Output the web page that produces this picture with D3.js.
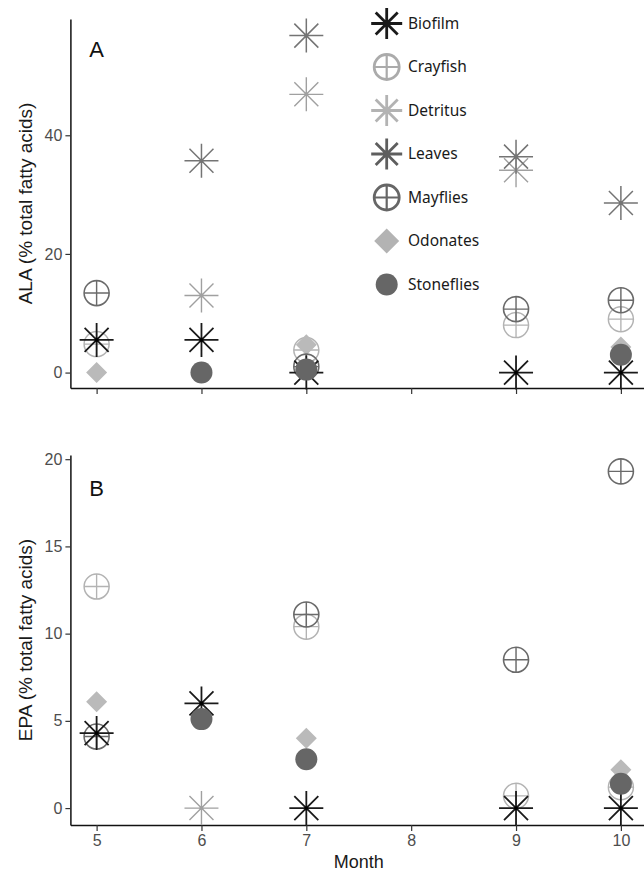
<!DOCTYPE html>
<html>
<head>
<meta charset="utf-8">
<script src="https://cdn.jsdelivr.net/npm/d3@7/dist/d3.min.js"></script>
<style>
html,body{margin:0;padding:0;background:#fff;}
svg{display:block;}
</style>
</head>
<body>
<svg id="chart" width="644" height="871"></svg>
<script>
// ---- data ----
const months = [5, 6, 7, 8, 9, 10];
const groups = ["Biofilm", "Crayfish", "Detritus", "Leaves", "Mayflies", "Odonates", "Stoneflies"];
// ALA values (% total fatty acids), null = not sampled
const alaBiofilm    = [5.5, 5.5, 0.0, null, 0.0, 0.0];
const alaCrayfish   = [4.8, null, 3.8, null, 8.0, 9.0];
const alaDetritus   = [null, 13.0, 46.9, null, 34.1, null];
const alaLeaves     = [null, 35.7, 56.8, null, 36.4, 28.6];
const alaMayflies   = [13.4, null, 1.0, null, 10.7, 12.2];
const alaOdonates   = [0.0, null, 4.7, null, null, 4.3];
const alaStoneflies = [null, 0.0, 0.5, null, null, 3.0];
// EPA values
const epaBiofilm    = [4.3, 6.0, 0.0, null, 0.0, 0.0];
const epaCrayfish   = [12.7, null, 10.4, null, 0.7, 1.2];
const epaDetritus   = [null, 0.0, null, null, null, null];
const epaLeaves     = [null, null, null, null, null, null];
const epaMayflies   = [4.1, null, 11.1, null, 8.5, 19.3];
const epaOdonates   = [6.1, null, 4.0, null, null, 2.2];
const epaStoneflies = [null, 5.1, 2.8, null, null, 1.4];
const alaTicks = [0, 20, 40];
const epaTicks = [0, 5, 10, 15, 20];
const monthTicks = [5, 6, 7, 8, 9, 10];

// ---- styles ----
const style = {
  Biofilm:    {shape: "ast",  color: "#1a1a1a", sw: 1.8},
  Crayfish:   {shape: "cplus", color: "#b3b3b3", sw: 1.5},
  Detritus:   {shape: "ast",  color: "#a0a0a0", sw: 1.4},
  Leaves:     {shape: "ast",  color: "#747474", sw: 1.5},
  Mayflies:   {shape: "cplus", color: "#6a6a6a", sw: 1.6},
  Odonates:   {shape: "diamond", color: "#bababa"},
  Stoneflies: {shape: "dot",  color: "#666666"}
};
const legendStyle = {
  Biofilm: "#1a1a1a", Crayfish: "#ababab", Detritus: "#b3b3b3", Leaves: "#5e5e5e",
  Mayflies: "#666666", Odonates: "#b3b3b3", Stoneflies: "#666666"
};
const drawOrder = ["Crayfish", "Odonates", "Mayflies", "Biofilm", "Stoneflies", "Detritus", "Leaves"];

const alaData = {Biofilm: alaBiofilm, Crayfish: alaCrayfish, Detritus: alaDetritus, Leaves: alaLeaves,
  Mayflies: alaMayflies, Odonates: alaOdonates, Stoneflies: alaStoneflies};
const epaData = {Biofilm: epaBiofilm, Crayfish: epaCrayfish, Detritus: epaDetritus, Leaves: epaLeaves,
  Mayflies: epaMayflies, Odonates: epaOdonates, Stoneflies: epaStoneflies};

const svg = d3.select("#chart");
const axisFont = "'Liberation Sans', Arial, sans-serif";

const x = d3.scaleLinear().domain([4.75, 10.25]).range([70.4, 647.1]);
const yA = d3.scaleLinear().domain([-2.6, 59.6]).range([388, 19]);
const yB = d3.scaleLinear().domain([-0.97, 20.24]).range([825, 455]);

function astPath(r, d) {
  return `M${-r},0L${r},0M0,${-r}L0,${r}M${-d},${-d}L${d},${d}M${-d},${d}L${d},${-d}`;
}
function cplusPath(r) {
  return `M${-r},0L${r},0M0,${-r}L0,${r}`;
}

function drawMarker(g, name, cx, cy, legend) {
  const s = style[name];
  const col = legend ? legendStyle[name] : s.color;
  const m = g.append("g").attr("transform", `translate(${cx},${cy})`);
  if (s.shape === "ast") {
    const r = legend ? 15.5 : 17, d = legend ? 11 : 12;
    m.append("path").attr("d", astPath(r, d)).attr("fill", "none")
      .attr("stroke", col).attr("stroke-width", legend ? 2.8 : s.sw);
    if (!legend) m.append("circle").attr("r", 1.9).attr("fill", name === "Biofilm" ? "#000" : col);
  } else if (s.shape === "cplus") {
    const r = 12.5;
    m.append("circle").attr("r", r).attr("fill", "none").attr("stroke", col)
      .attr("stroke-width", legend ? 2.8 : s.sw);
    m.append("path").attr("d", cplusPath(r)).attr("fill", "none").attr("stroke", col)
      .attr("stroke-width", legend ? 2.2 : s.sw * 0.9);
  } else if (s.shape === "diamond") {
    const h = legend ? 12.5 : 10.5;
    m.append("path").attr("d", `M0,${-h}L${h},0L0,${h}L${-h},0Z`).attr("fill", col);
  } else {
    m.append("circle").attr("r", 11).attr("fill", col);
  }
}

function panel(yScale, data, ticks, showXLabels, yTitle, letter, letterY) {
  const g = svg.append("g");
  const yr = yScale.range();
  // y axis
  const ya = g.append("g").attr("transform", `translate(${x.range()[0]},0)`)
    .call(d3.axisLeft(yScale).tickValues(ticks).tickSize(5).tickSizeOuter(0).tickPadding(3));
  ya.select(".domain").attr("stroke", "#111").attr("stroke-width", 1.5);
  ya.selectAll(".tick line").attr("stroke", "#333").attr("stroke-width", 1.2);
  ya.selectAll(".tick text").attr("fill", "#4d4d4d").attr("font-size", 16).attr("font-family", axisFont);
  // x axis
  const xa = g.append("g").attr("transform", `translate(0,${yr[0]})`)
    .call(d3.axisBottom(x).tickValues(monthTicks).tickSize(6).tickSizeOuter(0).tickPadding(4)
      .tickFormat(showXLabels ? d3.format("d") : () => ""));
  xa.select(".domain").attr("stroke", "#111").attr("stroke-width", 1.5);
  xa.selectAll(".tick line").attr("stroke", "#333").attr("stroke-width", 1.2);
  xa.selectAll(".tick text").attr("fill", "#4d4d4d").attr("font-size", 16).attr("font-family", axisFont);
  // y title
  const cy = (yr[0] + yr[1]) / 2;
  g.append("text").attr("transform", `translate(32,${cy}) rotate(-90)`)
    .attr("text-anchor", "middle").attr("font-family", axisFont).attr("font-size", 19)
    .attr("fill", "#1a1a1a").text(yTitle);
  // panel letter
  g.append("text").attr("x", x(5)).attr("y", letterY).attr("text-anchor", "middle")
    .attr("font-family", axisFont).attr("font-size", 22).attr("fill", "#111").text(letter);
  // points
  const pts = g.append("g");
  drawOrder.forEach(name => {
    data[name].forEach((v, i) => {
      if (v === null) return;
      drawMarker(pts, name, x(months[i]), yScale(v), false);
    });
  });
}

panel(yA, alaData, alaTicks, false, "ALA (% total fatty acids)", "A", 57);
panel(yB, epaData, epaTicks, true, "EPA (% total fatty acids)", "B", 496);

// x title
svg.append("text").attr("x", (x.range()[0] + x.range()[1]) / 2).attr("y", 868)
  .attr("text-anchor", "middle").attr("font-family", axisFont).attr("font-size", 18)
  .attr("fill", "#1a1a1a").text("Month");

// legend
const leg = svg.append("g");
groups.forEach((name, i) => {
  const yy = 23.5 + i * 43.5;
  drawMarker(leg, name, 386.7, yy, true);
  leg.append("text").attr("x", 408).attr("y", yy).attr("dy", "0.35em")
    .attr("font-family", "'Noto Sans', 'Open Sans', sans-serif").attr("font-size", 15.5)
    .attr("fill", "#1a1a1a").text(name);
});
</script>
</body>
</html>
